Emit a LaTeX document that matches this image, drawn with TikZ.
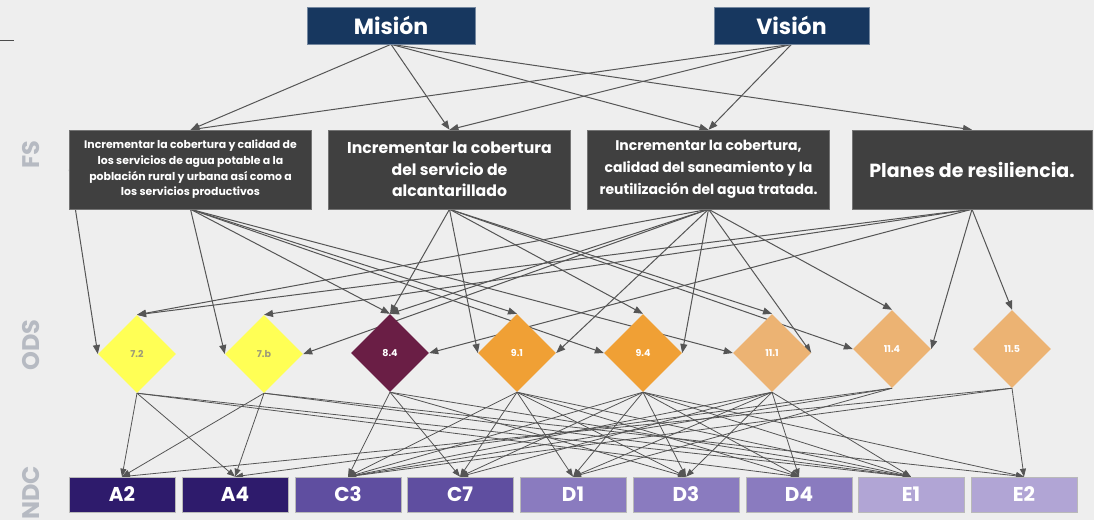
\documentclass[tikz,border=0pt]{standalone}
\usepackage{fontspec}
\setmainfont{Poppins}
\usepackage{tikz}
\usetikzlibrary{arrows.meta,shapes.geometric}
\definecolor{bgcol}{HTML}{EEEEEE}
\definecolor{navycol}{HTML}{17375F}
\definecolor{fscol}{HTML}{404040}
\definecolor{linkcol}{HTML}{555555}
\definecolor{tiercol}{HTML}{B6BAC2}
\definecolor{yelcol}{HTML}{FFFF55}
\definecolor{yeltext}{HTML}{9E9C78}
\definecolor{marcol}{HTML}{6A1E45}
\definecolor{orgcol}{HTML}{F0A035}
\definecolor{lorcol}{HTML}{ECB373}
\definecolor{acol}{HTML}{2E1B6C}
\definecolor{ccol}{HTML}{5F4EA0}
\definecolor{dcol}{HTML}{8A7BBF}
\definecolor{ecol}{HTML}{B1A5D5}
\pgfdeclarelayer{back}
\pgfdeclarelayer{links}
\pgfsetlayers{back,links,main}

\begin{document}
\begin{tikzpicture}[x=1pt,y=-1pt,
    topbox/.style={fill=navycol, draw=navycol!60!white, line width=0.6pt, text=white,
        font=\bfseries\fontsize{22}{26}\selectfont, minimum width=168pt, minimum height=37pt, inner sep=0pt},
    fsbox/.style={fill=fscol, draw=black!55, line width=0.5pt, text=white, align=center,
        minimum width=242pt, minimum height=79pt, inner sep=2pt},
    ods/.style={diamond, aspect=1, minimum width=78pt, minimum height=78pt, inner sep=0pt,
        text=white, font=\bfseries\fontsize{9.5}{11}\selectfont},
    ndc/.style={draw=gray!55, line width=0.6pt, text=white, minimum width=106pt, minimum height=35pt,
        inner sep=0pt, font=\bfseries\fontsize{20}{22}\selectfont},
    tier/.style={rotate=90, text=tiercol, font=\bfseries\fontsize{24}{28}\selectfont},
    link/.style={draw=linkcol, line width=1pt, -{Triangle[length=9pt,width=7pt]}},
    sublink/.style={draw=linkcol, line width=0.8pt, -{Triangle[length=8pt,width=6pt]}}]
  \useasboundingbox (0,0) rectangle (1094,520);
  \begin{pgfonlayer}{back}
    \fill[bgcol] (0,0) rectangle (1094,520);
  \end{pgfonlayer}
  \draw[black!70, line width=0.7pt] (0,40) -- (14,40);
  % tiers
  \node[tier] (tfs) at (31,155) {FS};
  \node[tier] (tods) at (31,345) {ODS};
  \node[tier] (tndc) at (31,493) {NDC};
  % mision / vision
  \node[topbox] (mision) at (391,25.5) {Misión};
  \node[topbox, minimum width=155pt] (vision) at (791.5,25.5) {Visión};
  % FS
  \node[fsbox, font=\bfseries\fontsize{10.9}{15.7}\selectfont] (fs1) at (190.5,169.5)
    {Incrementar la cobertura y calidad de\\los servicios de agua potable a la\\población rural y urbana así como a\\los servicios productivos};
  \node[fsbox, font=\bfseries\fontsize{15.7}{21.5}\selectfont] (fs2) at (449.5,169.5)
    {Incrementar la cobertura\\del servicio de\\alcantarillado};
  \node[fsbox, font=\bfseries\fontsize{14}{22}\selectfont] (fs3) at (708.5,169.5)
    {Incrementar la cobertura,\\calidad del saneamiento y la\\reutilización del agua tratada.};
  \node[fsbox, minimum width=240pt, font=\bfseries\fontsize{19}{22}\selectfont] (fs4) at (972,169.5)
    {Planes de resiliencia.};
  % ODS
  \node[ods, fill=yelcol, text=yeltext] (o72) at (137,354) {7.2};
  \node[ods, fill=yelcol, text=yeltext] (o7b) at (264,354) {7.b};
  \node[ods, fill=marcol] (o84) at (390,353) {8.4};
  \node[ods, fill=orgcol] (o91) at (517,353) {9.1};
  \node[ods, fill=orgcol] (o94) at (643,353) {9.4};
  \node[ods, fill=lorcol] (o111) at (772,353) {11.1};
  \node[ods, fill=lorcol] (o114) at (892,349) {11.4};
  \node[ods, fill=lorcol] (o115) at (1012,349) {11.5};
  % NDC
  \node[ndc, fill=acol] (a2) at (122,494.5) {A2};
  \node[ndc, fill=acol] (a4) at (235,494.5) {A4};
  \node[ndc, fill=ccol] (c3) at (348,494.5) {C3};
  \node[ndc, fill=ccol] (c7) at (460,494.5) {C7};
  \node[ndc, fill=dcol] (d1) at (573,494.5) {D1};
  \node[ndc, fill=dcol] (d3) at (686,494.5) {D3};
  \node[ndc, fill=dcol] (d4) at (799,494.5) {D4};
  \node[ndc, fill=ecol] (e1) at (911,494.5) {E1};
  \node[ndc, fill=ecol] (e2) at (1024,494.5) {E2};
  \begin{pgfonlayer}{links}
    \draw[link] (mision.south) -- (fs1.north); \draw[link] (mision.south) -- (fs2.north);
    \draw[link] (mision.south) -- (fs3.north); \draw[link] (mision.south) -- (fs4.north);
    \draw[link] (vision.south) -- (fs1.north); \draw[link] (vision.south) -- (fs2.north);
    \draw[link] (vision.south) -- (fs3.north);
    % FS -> ODS
    \draw[link] (fs1.west) -- (o72.west);
    \foreach \t in {o7b.west,o84.north,o91.north,o94.west,o111.west}
      \draw[link] (fs1.south) -- (\t);
    \foreach \t in {o84.north,o91.west,o94.north,o111.north,o114.west}
      \draw[link] (fs2.south) -- (\t);
    \foreach \t in {o72.north,o7b.east,o84.north,o91.east,o94.east,o111.east,o114.north}
      \draw[link] (fs3.south) -- (\t);
    \foreach \t in {o72.north,o7b.north,o84.east,o114.east,o115.north}
      \draw[link] (fs4.south) -- (\t);
    % ODS -> NDC
    \foreach \t in {a2,a4,d4,e1} \draw[sublink] (o72.south) -- (\t.north);
    \foreach \t in {a2,a4,e1,e2} \draw[sublink] (o7b.south) -- (\t.north);
    \foreach \t in {c3,c7,d3,e1} \draw[sublink] (o84.south) -- (\t.north);
    \foreach \t in {c3,c7,d1,d3,d4,e1} \draw[sublink] (o91.south) -- (\t.north);
    \foreach \t in {c3,c7,d1,d3,d4,e1,e2} \draw[sublink] (o94.south) -- (\t.north);
    \foreach \t in {c3,c7,d1,d3,d4,e1} \draw[sublink] (o111.south) -- (\t.north);
    \foreach \t in {a4,c3,d1} \draw[sublink] (o114.south) -- (\t.north);
    \foreach \t in {a2,c3,e2} \draw[sublink] (o115.south) -- (\t.north);
  \end{pgfonlayer}
\end{tikzpicture}
\end{document}
